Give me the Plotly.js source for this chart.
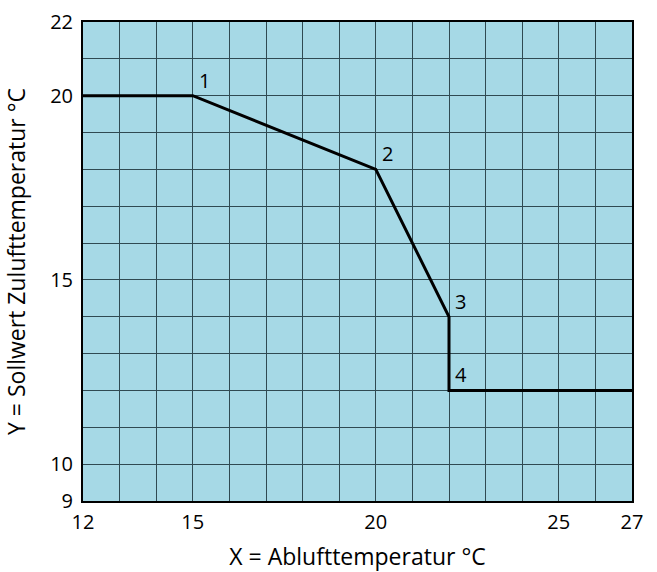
<!DOCTYPE html>
<html>
<head>
<meta charset="utf-8">
<script src="https://cdn.plot.ly/plotly-3.0.1.min.js"></script>
<style>html,body{margin:0;padding:0;background:#fff;}#chart{width:657px;height:572px;}</style>
</head>
<body>
<div id="chart"></div>
<script>
var xVals = [12, 15, 20, 22, 22, 27];
var yVals = [20, 20, 18, 14, 12, 12];
var pointLabels = ["", "1", "2", "3", "4", ""];
var xTickVals = [12,13,14,15,16,17,18,19,20,21,22,23,24,25,26,27];
var xTickText = ["12","","","15","","","","","20","","","","","25","","27"];
var yTickVals = [9,10,11,12,13,14,15,16,17,18,19,20,21,22];
var yTickText = ["9","10","","","","","15","","","","","20","","22"];

var trace = {
  x: xVals, y: yVals, mode: "lines", type: "scatter",
  line: {color: "#000", width: 3}, hoverinfo: "skip"
};
var annotations = [];
for (var i = 0; i < xVals.length; i++) {
  if (pointLabels[i]) {
    annotations.push({x: xVals[i], y: yVals[i], text: pointLabels[i], showarrow: false,
      xanchor: "left", yanchor: "bottom", xshift: 4, yshift: 0,
      font: {family: "Open Sans, sans-serif", size: 20, color: "#000"}});
  }
}
var tickFont = {family: "Open Sans, sans-serif", size: 20, color: "#000"};
var layout = {
  width: 657, height: 572,
  margin: {l: 83, r: 25, t: 22, b: 71},
  paper_bgcolor: "#fff", plot_bgcolor: "#a6d9e6",
  showlegend: false,
  font: {family: "Open Sans, sans-serif", size: 20, color: "#000"},
  xaxis: {range: [12, 27], tickmode: "array", tickvals: xTickVals, ticktext: xTickText,
    tickfont: tickFont,
    showgrid: true, gridcolor: "#2f4a52", gridwidth: 1, zeroline: false,
    showline: true, linecolor: "#000", linewidth: 2, mirror: true, ticks: "",
    ticklabelstandoff: 2,
    title: {text: "X = Ablufttemperatur °C", font: {size: 23}, standoff: 16}},
  yaxis: {range: [9, 22], tickmode: "array", tickvals: yTickVals, ticktext: yTickText,
    tickfont: tickFont,
    showgrid: true, gridcolor: "#2f4a52", gridwidth: 1, zeroline: false,
    showline: true, linecolor: "#000", linewidth: 2, mirror: true, ticks: "",
    ticklabelstandoff: 4,
    title: {text: "Y = Sollwert Zulufttemperatur °C", font: {size: 23}, standoff: 18}},
  annotations: annotations
};
Plotly.newPlot("chart", [trace], layout, {displayModeBar: false, staticPlot: true});
</script>
</body>
</html>
